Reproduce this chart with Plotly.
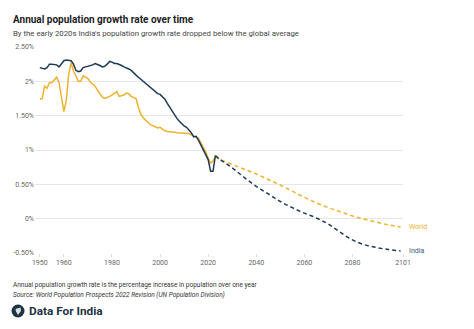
import plotly.graph_objects as go

# ---------------- data ----------------
hist_years = list(range(1950, 2024))
india_hist = [2.20, 2.19, 2.18, 2.20, 2.25, 2.25, 2.25, 2.24, 2.21, 2.26,
              2.30, 2.31, 2.31, 2.30, 2.25, 2.16, 2.14, 2.15, 2.20, 2.21,
              2.21, 2.22, 2.24, 2.26, 2.25, 2.23, 2.21, 2.22, 2.25, 2.29,
              2.28, 2.26, 2.26, 2.25, 2.23, 2.21, 2.20, 2.18, 2.16, 2.12,
              2.09, 2.06, 2.03, 2.00, 1.97, 1.94, 1.91, 1.88, 1.85, 1.82,
              1.81, 1.78, 1.74, 1.68, 1.62, 1.57, 1.51, 1.46, 1.42, 1.38,
              1.35, 1.33, 1.29, 1.25, 1.19, 1.20, 1.14, 1.07, 1.01, 0.94,
              0.86, 0.69, 0.69, 0.92]
world_hist = [1.74, 1.75, 1.93, 1.90, 1.98, 1.98, 2.02, 2.06, 1.98, 1.75,
              1.56, 1.72, 2.10, 2.27, 2.15, 2.08, 2.00, 2.00, 2.08, 2.06,
              2.04, 1.99, 1.96, 1.93, 1.87, 1.81, 1.77, 1.75, 1.76, 1.78,
              1.80, 1.82, 1.85, 1.78, 1.79, 1.80, 1.83, 1.82, 1.78, 1.76,
              1.75, 1.62, 1.52, 1.47, 1.43, 1.40, 1.37, 1.35, 1.33, 1.32,
              1.33, 1.30, 1.28, 1.27, 1.27, 1.26, 1.26, 1.25, 1.25, 1.25,
              1.25, 1.24, 1.24, 1.22, 1.20, 1.19, 1.17, 1.10, 1.04, 0.97,
              0.88, 0.81, 0.84, 0.90]

proj_years = [2023, 2025, 2030, 2035, 2040, 2045, 2050, 2055, 2060, 2065,
              2070, 2075, 2080, 2085, 2090, 2095, 2100]
india_proj = [0.92, 0.86, 0.74, 0.60, 0.47, 0.36, 0.25, 0.16, 0.08, 0.01,
              -0.08, -0.20, -0.31, -0.38, -0.42, -0.45, -0.47]
world_proj = [0.90, 0.86, 0.79, 0.72, 0.65, 0.57, 0.49, 0.40, 0.31, 0.23,
              0.16, 0.10, 0.04, -0.01, -0.05, -0.09, -0.12]

x_ticks = [1950, 1960, 1980, 2000, 2020, 2040, 2060, 2080, 2101]
y_ticks = [-0.5, 0, 0.5, 1, 1.5, 2, 2.5]
y_tick_text = ["-0.50%", "0%", "0.50%", "1%", "1.50%", "2%", "2.50%"]

INDIA = "#1c3a56"
WORLD = "#f0b22e"
FONT = "Roboto"

# ---------------- layout geometry ----------------
W, H = 474, 329
ML, MR, MT, MB = 35, 71, 47, 76
PW, PH = W - ML - MR, H - MT - MB


def px(xp):
    return (xp - ML) / PW


def py(yp):
    return (H - MB - yp) / PH


fig = go.Figure()
fig.add_trace(go.Scatter(x=hist_years, y=world_hist, mode="lines",
                         line=dict(color=WORLD, width=1.5), hoverinfo="skip"))
fig.add_trace(go.Scatter(x=proj_years, y=world_proj, mode="lines",
                         line=dict(color=WORLD, width=1.5, dash="4px,3px", shape="spline"),
                         hoverinfo="skip"))
fig.add_trace(go.Scatter(x=hist_years, y=india_hist, mode="lines",
                         line=dict(color=INDIA, width=1.5), hoverinfo="skip"))
fig.add_trace(go.Scatter(x=proj_years, y=india_proj, mode="lines",
                         line=dict(color=INDIA, width=1.5, dash="4px,3px", shape="spline"),
                         hoverinfo="skip"))

annotations = [
    dict(text="<b>Annual population growth rate over time</b>", x=px(11), y=py(19),
         xanchor="left", yanchor="middle", font=dict(size=10, color="#222222", family=FONT)),
    dict(text="By the early 2020s India's population growth rate dropped below the global average",
         x=px(11), y=py(33), xanchor="left", yanchor="middle",
         font=dict(size=7.8, color="#444444", family=FONT)),
    dict(text="Annual population growth rate is the percentage increase in population over one year",
         x=px(11), y=py(284.5), xanchor="left", yanchor="middle",
         font=dict(size=6.5, color="#333333", family=FONT)),
    dict(text="<i>Source: World Population Prospects 2022 Revision (UN Population Division)</i>",
         x=px(11), y=py(295), xanchor="left", yanchor="middle",
         font=dict(size=6.5, color="#333333", family=FONT)),
    dict(text="<b>Data For India</b>", x=px(27), y=py(311), xanchor="left", yanchor="middle",
         font=dict(size=11.8, color="#1e3442", family=FONT)),
    dict(text="World", x=proj_years[-1], y=world_proj[-1], xref="x", yref="y",
         xanchor="left", yanchor="middle", xshift=6, showarrow=False,
         font=dict(size=7, color=WORLD, family=FONT)),
    dict(text="India", x=proj_years[-1], y=india_proj[-1], xref="x", yref="y",
         xanchor="left", yanchor="middle", xshift=6, showarrow=False,
         font=dict(size=7, color="#3c5a78", family=FONT)),
]
for a in annotations:
    a.setdefault("xref", "paper")
    a.setdefault("yref", "paper")
    a.setdefault("showarrow", False)

shapes = [
    dict(type="circle", xref="paper", yref="paper",
         x0=px(11.5), x1=px(24.5), y0=py(317.5), y1=py(304.5),
         fillcolor="#1e3442", line=dict(width=0)),
    dict(type="path", xref="paper", yref="paper",
         path=f"M {px(15.5)},{py(309)} L {px(20.5)},{py(307.5)} L {px(21)},{py(311)} "
              f"L {px(18)},{py(315)} L {px(16)},{py(311.5)} Z",
         fillcolor="#ffffff", line=dict(width=0), opacity=0.85),
]

fig.update_layout(
    width=W, height=H,
    margin=dict(l=ML, r=MR, t=MT, b=MB, pad=0),
    paper_bgcolor="white", plot_bgcolor="white",
    showlegend=False,
    font=dict(family=FONT, color="#666666"),
    annotations=annotations,
    shapes=shapes,
    xaxis=dict(range=[1948, 2101], tickvals=x_ticks, ticktext=[str(t) for t in x_ticks],
               showgrid=False, zeroline=False, showline=False,
               ticks="outside", ticklen=3, tickcolor="#dddddd",
               tickfont=dict(size=7, color="#666666", family=FONT), fixedrange=True),
    yaxis=dict(range=[-0.5, 2.5], tickvals=y_ticks, ticktext=y_tick_text,
               showgrid=True, gridcolor="#e6e6e6", gridwidth=1,
               zeroline=False, showline=False, ticks="",
               tickfont=dict(size=7, color="#666666", family=FONT), fixedrange=True),
)

fig.write_html("out.html", config={"displayModeBar": False})
